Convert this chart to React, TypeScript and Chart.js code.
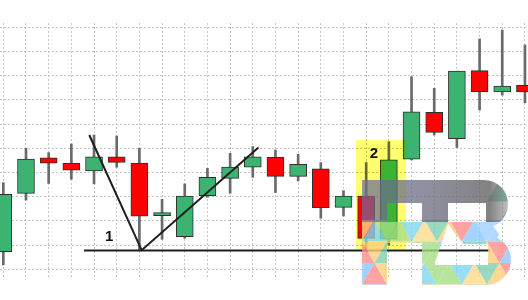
import React, { useEffect, useRef } from 'react';
import { Chart, registerables } from 'chart.js';

Chart.register(...registerables);

// ---- Data (price units; one grid step = 10) ----
const opens = [7.3, 31.4, 46.1, 43.9, 40.7, 46.5, 43.9, 22.2, 13.5, 30.4, 37.6, 42.2, 46.3, 38.4, 41.5, 25.6, 30.3, 12.4, 45.5, 64.9, 54.0, 82.1, 73.3, 76.0];
const closes = [31.0, 45.5, 43.9, 41.0, 46.5, 44.2, 21.9, 23.4, 30.2, 38.0, 42.2, 46.5, 38.4, 43.4, 25.5, 30.3, 12.8, 45.2, 65.1, 56.6, 81.9, 73.4, 75.7, 73.3];
const highs = [35.8, 50.0, 48.2, 51.8, 55.5, 55.1, 50.0, 28.9, 35.3, 41.7, 47.9, 50.7, 49.3, 47.5, 44.1, 32.5, 44.1, 52.7, 79.6, 74.8, 81.9, 95.2, 98.9, 92.7];
const lows = [1.8, 28.6, 35.5, 37.2, 35.3, 42.2, 8.0, 12.4, 12.8, 29.8, 31.4, 38.0, 31.7, 36.5, 21.1, 22.0, 8.4, 10.0, 45.2, 55.5, 50.3, 65.8, 72.0, 68.8];

const gridValues = [0, 10, 20, 30, 40, 50, 60, 70, 80, 90, 100];

// Drawn pattern lines (x in candle index units, y in price units)
const vLineX = [3.79, 6.1, 11.25];
const vLineY = [55.5, 7.9, 50.3];
const supportX = [3.56, 21.46];
const supportY = [7.8, 7.8];

const labelTexts = ['1', '2'];
const labelX = [4.67, 16.34];
const labelY = [13.2, 47.9];

const highlightX = [15.55, 17.76];
const highlightY = [8.3, 53.4];

const UP = '#3cb371';
const DOWN = '#ff0000';

const candleIndex = opens.map((_, i) => i);

const logoPalette = ['#7fd6ef', '#ffce7a', '#ff8c8c', '#a6df86', '#8cc8ff', '#7ecfb0', '#ffd98a', '#9fd0ff'];

function logoPath(ox: number, oy: number): Path2D {
  const p = new Path2D();
  // F stem
  p.rect(ox, oy, 25, 105);
  // F middle bar
  p.rect(ox, oy + 42, 62, 21);
  // top band
  p.rect(ox, oy, 122, 23);
  // B outer (clockwise)
  p.moveTo(ox + 60, oy);
  p.lineTo(ox + 122, oy);
  p.arc(ox + 122, oy + 24, 24, -Math.PI / 2, (Math.PI / 2) * 0.75, false);
  p.lineTo(ox + 137, oy + 54);
  p.arc(ox + 124, oy + 80, 25, -(Math.PI / 2) * 0.7, Math.PI / 2, false);
  p.lineTo(ox + 60, oy + 105);
  p.closePath();
  // B counters (counter-clockwise => holes with nonzero rule)
  p.moveTo(ox + 86, oy + 23);
  p.lineTo(ox + 86, oy + 42);
  p.lineTo(ox + 124, oy + 42);
  p.lineTo(ox + 124, oy + 23);
  p.closePath();
  p.moveTo(ox + 86, oy + 44);
  p.lineTo(ox + 72, oy + 85);
  p.lineTo(ox + 126, oy + 85);
  p.lineTo(ox + 126, oy + 64);
  p.lineTo(ox + 101, oy + 64);
  p.closePath();
  return p;
}

const overlayPlugin = {
  id: 'overlay',
  afterDatasetsDraw(chart: any) {
    const { ctx, scales } = chart;
    const xs = scales.x;
    const ys = scales.y;
    // yellow highlight (multiply)
    ctx.save();
    ctx.globalCompositeOperation = 'multiply';
    ctx.fillStyle = 'rgb(255,255,112)';
    const hx0 = xs.getPixelForValue(highlightX[0]);
    const hx1 = xs.getPixelForValue(highlightX[1]);
    const hy0 = ys.getPixelForValue(highlightY[1]);
    const hy1 = ys.getPixelForValue(highlightY[0]);
    ctx.fillRect(hx0, hy0, hx1 - hx0, hy1 - hy0);
    ctx.restore();

    // labels
    ctx.save();
    ctx.font = 'bold 15px "Liberation Sans", Arial, sans-serif';
    ctx.fillStyle = '#111';
    ctx.textAlign = 'center';
    ctx.textBaseline = 'middle';
    labelTexts.forEach((t, i) => {
      ctx.fillText(t, xs.getPixelForValue(labelX[i]), ys.getPixelForValue(labelY[i]));
    });
    ctx.restore();

    // watermark logo
    const ox = chart.width - 166;
    const oy = chart.height - 120;
    const path = logoPath(ox, oy);
    ctx.save();
    ctx.clip(path, 'nonzero');
    // colourful triangles (lower part)
    ctx.globalAlpha = 0.8;
    const tw = 25;
    const th = 21.5;
    for (let r = 0; r < 4; r++) {
      const y0 = oy + 40 + r * th;
      for (let c = -1; c < 8; c++) {
        const x0 = ox + c * tw + (r % 2) * (tw / 2);
        ctx.fillStyle = logoPalette[(c * 3 + r * 5 + 16) % logoPalette.length];
        ctx.beginPath();
        ctx.moveTo(x0, y0 + th);
        ctx.lineTo(x0 + tw / 2, y0);
        ctx.lineTo(x0 + tw, y0 + th);
        ctx.closePath();
        ctx.fill();
        ctx.fillStyle = logoPalette[(c * 5 + r * 3 + 19) % logoPalette.length];
        ctx.beginPath();
        ctx.moveTo(x0 + tw / 2, y0);
        ctx.lineTo(x0 + tw * 1.5, y0);
        ctx.lineTo(x0 + tw, y0 + th);
        ctx.closePath();
        ctx.fill();
      }
    }
    // colourful triangles on the B's upper right bowl
    for (let r = 0; r < 2; r++) {
      const y0 = oy + r * th;
      const x0 = ox + 125 + (r % 2) * (tw / 2);
      ctx.fillStyle = logoPalette[(r * 3 + 5) % logoPalette.length];
      ctx.beginPath();
      ctx.moveTo(x0, y0 + th);
      ctx.lineTo(x0 + tw / 2, y0);
      ctx.lineTo(x0 + tw, y0 + th);
      ctx.closePath();
      ctx.fill();
    }
    // gray upper part
    ctx.globalAlpha = 1;
    const g = ctx.createLinearGradient(ox, oy, ox + 150, oy);
    g.addColorStop(0, 'rgba(110,110,150,0.72)');
    g.addColorStop(0.4, 'rgba(105,105,130,0.74)');
    g.addColorStop(0.85, 'rgba(95,95,95,0.78)');
    g.addColorStop(1, 'rgba(95,95,95,0.3)');
    ctx.fillStyle = g;
    ctx.fillRect(ox - 2, oy - 2, 160, 44);
    ctx.restore();
  },
};

export default function App() {
  const ref = useRef<HTMLCanvasElement | null>(null);

  useEffect(() => {
    if (!ref.current) return;
    const bodyColors = candleIndex.map((i) => (closes[i] >= opens[i] ? UP : DOWN));
    const chart = new Chart(ref.current, {
      type: 'bar',
      data: {
        datasets: [
          {
            type: 'line',
            label: 'V',
            data: vLineX.map((x, i) => ({ x, y: vLineY[i] })),
            borderColor: '#1e1e1e',
            borderWidth: 2,
            pointRadius: 0,
            tension: 0,
            order: 0,
          } as any,
          {
            type: 'line',
            label: 'support',
            data: supportX.map((x, i) => ({ x, y: supportY[i] })),
            borderColor: '#1e1e1e',
            borderWidth: 2,
            pointRadius: 0,
            tension: 0,
            order: 0,
          } as any,
          {
            type: 'bar',
            label: 'body',
            data: candleIndex.map((i) => ({ x: i, y: [opens[i], closes[i]] })),
            backgroundColor: bodyColors,
            borderColor: '#2f2f2f',
            borderWidth: 1,
            borderSkipped: false,
            barThickness: 17,
            grouped: false,
            order: 1,
          } as any,
          {
            type: 'bar',
            label: 'wick',
            data: candleIndex.map((i) => ({ x: i, y: [lows[i], highs[i]] })),
            backgroundColor: '#6a6a6a',
            borderWidth: 0,
            barThickness: 2,
            grouped: false,
            order: 2,
          } as any,
        ],
      },
      options: {
        responsive: false,
        animation: false,
        layout: { padding: { top: 23, bottom: 23, left: 0, right: 0 } },
        plugins: { legend: { display: false }, tooltip: { enabled: false } },
        scales: {
          x: {
            type: 'linear',
            min: -0.146,
            max: 23.135,
            offset: false,
            grid: { color: '#c6c6c6', lineWidth: 1, drawTicks: false, offset: false },
            border: { display: false, dash: [2, 2] },
            ticks: { display: false },
            afterBuildTicks: (s: any) => {
              s.ticks = candleIndex.map((v) => ({ value: v }));
            },
          },
          y: {
            type: 'linear',
            min: -3.2,
            max: 101.8,
            grid: { color: '#c6c6c6', lineWidth: 1, drawTicks: false },
            border: { display: false, dash: [2, 2] },
            ticks: { display: false },
            afterBuildTicks: (s: any) => {
              s.ticks = gridValues.map((v) => ({ value: v }));
            },
          },
        },
      } as any,
      plugins: [overlayPlugin],
    });
    return () => chart.destroy();
  }, []);

  return (
    <div style={{ position: 'fixed', left: 0, top: 0, width: 528, height: 300, background: '#fff' }}>
      <canvas ref={ref} width={528} height={300} style={{ display: 'block' }} />
    </div>
  );
}
